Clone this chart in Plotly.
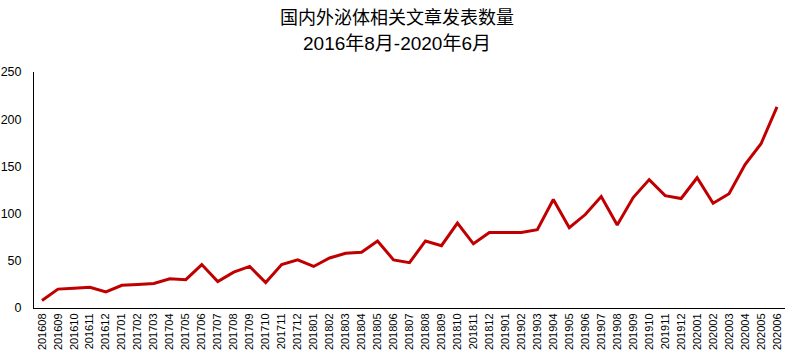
import plotly.graph_objects as go

months = [
    "201608", "201609", "201610", "201611", "201612",
    "201701", "201702", "201703", "201704", "201705", "201706",
    "201707", "201708", "201709", "201710", "201711", "201712",
    "201801", "201802", "201803", "201804", "201805", "201806",
    "201807", "201808", "201809", "201810", "201811", "201812",
    "201901", "201902", "201903", "201904", "201905", "201906",
    "201907", "201908", "201909", "201910", "201911", "201912",
    "202001", "202002", "202003", "202004", "202005", "202006",
]
counts = [
    8, 20, 21, 22, 17,
    24, 25, 26, 31, 30, 46, 28, 38, 44, 27, 46, 51,
    44, 53, 58, 59, 71, 51, 48, 71, 66, 90, 68, 80,
    80, 80, 83, 115, 85, 99, 118, 88, 117, 136, 119, 116,
    138, 111, 121, 152, 174, 213,
]
title_line1 = "国内外泌体相关文章发表数量"
title_line2 = "2016年8月-2020年6月"
y_ticks = [0, 50, 100, 150, 200, 250]

FONT = "Liberation Sans, Arial, Noto Sans CJK SC, sans-serif"
W, H = 794, 363
ML, MR, MT, MB = 34, 9, 72, 54.5
plot_w = W - ML - MR
plot_h = H - MT - MB


def title_y(screen_y):
    return (H - MB - screen_y) / plot_h


title_x = (W / 2 - ML) / plot_w

fig = go.Figure()
fig.add_trace(go.Scatter(
    x=months, y=counts, mode="lines",
    line=dict(color="#C00000", width=3),
    hoverinfo="x+y",
))

fig.update_layout(
    width=W, height=H,
    margin=dict(l=ML, r=MR, t=MT, b=MB, autoexpand=False),
    paper_bgcolor="white", plot_bgcolor="white",
    showlegend=False,
    font=dict(family=FONT, color="#000000"),
    annotations=[
        dict(text=title_line1, x=title_x, xref="paper",
             y=title_y(18), yref="paper", yanchor="middle",
             showarrow=False, font=dict(size=18, family=FONT)),
        dict(text=title_line2, x=title_x, xref="paper",
             y=title_y(43), yref="paper", yanchor="middle",
             showarrow=False, font=dict(size=19, family=FONT)),
    ],
)

fig.update_xaxes(
    type="category", automargin=False,
    range=[-0.5, len(months) - 0.5],
    showline=True, linecolor="#000000", linewidth=1,
    showgrid=False, zeroline=False,
    ticks="", tickangle=-90,
    tickfont=dict(size=11, family=FONT, color="#000000"),
)
fig.update_yaxes(
    range=[0, 250], tickvals=y_ticks, automargin=False,
    showline=True, linecolor="#000000", linewidth=1,
    showgrid=False, zeroline=False,
    ticks="", ticklabelstandoff=9,
    tickfont=dict(size=12.5, family=FONT, color="#000000"),
)

# remove the default 8px page margin so the figure fills the window exactly
fig.write_html(
    "out.html",
    config={"displayModeBar": False},
    post_script="document.body.style.margin='0';document.body.style.padding='0';",
)
